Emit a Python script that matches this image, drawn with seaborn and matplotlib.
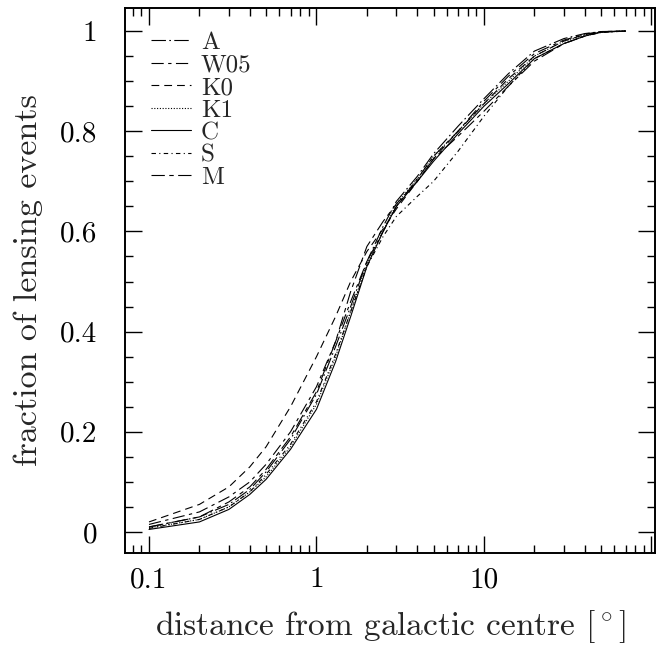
import matplotlib
matplotlib.use("Agg")
import matplotlib.pyplot as plt
import matplotlib.ticker as mticker
import seaborn as sns

# distance from galactic centre (deg)
dist = [0.1, 0.2, 0.3, 0.4, 0.5, 0.7, 1.0, 1.3, 1.6, 2.0, 2.5, 3.0,
        4.0, 5.0, 7.0, 10, 14, 20, 30, 40, 50, 70]

frac_A = [0.01, 0.03, 0.055, 0.085, 0.12, 0.185, 0.275, 0.37, 0.45, 0.54, 0.61, 0.66,
          0.71, 0.755, 0.81, 0.865, 0.915, 0.96, 0.985, 0.995, 0.999, 1.0]
frac_W05 = [0.015, 0.04, 0.07, 0.10, 0.135, 0.20, 0.29, 0.38, 0.46, 0.54, 0.60, 0.65,
            0.705, 0.75, 0.80, 0.86, 0.91, 0.955, 0.982, 0.994, 0.999, 1.0]
frac_K0 = [0.02, 0.055, 0.09, 0.13, 0.17, 0.25, 0.35, 0.43, 0.50, 0.56, 0.605, 0.645,
           0.70, 0.745, 0.80, 0.855, 0.905, 0.95, 0.98, 0.993, 0.998, 1.0]
frac_K1 = [0.008, 0.025, 0.05, 0.08, 0.11, 0.17, 0.255, 0.35, 0.44, 0.535, 0.60, 0.655,
           0.705, 0.75, 0.80, 0.855, 0.90, 0.95, 0.98, 0.992, 0.998, 1.0]
frac_C = [0.005, 0.02, 0.045, 0.075, 0.105, 0.165, 0.245, 0.34, 0.43, 0.53, 0.60, 0.65,
          0.70, 0.74, 0.795, 0.85, 0.895, 0.945, 0.975, 0.99, 0.998, 1.0]
frac_S = [0.007, 0.025, 0.05, 0.08, 0.115, 0.175, 0.26, 0.355, 0.44, 0.53, 0.59, 0.63,
          0.67, 0.70, 0.76, 0.83, 0.89, 0.945, 0.975, 0.99, 0.997, 1.0]
frac_M = [0.01, 0.03, 0.06, 0.09, 0.125, 0.19, 0.28, 0.38, 0.48, 0.57, 0.62, 0.655,
          0.70, 0.745, 0.79, 0.84, 0.89, 0.94, 0.975, 0.99, 0.998, 1.0]

models = ["A", "W05", "K0", "K1", "C", "S", "M"]
series = [frac_A, frac_W05, frac_K0, frac_K1, frac_C, frac_S, frac_M]
styles = {
    "A": (0, (13, 3, 1.5, 3)),
    "W05": (0, (11, 4, 3, 4)),
    "K0": (0, (7, 4.5)),
    "K1": (0, (1, 1.5)),
    "C": "-",
    "S": (0, (4, 3, 1, 3)),
    "M": (0, (12, 4, 4, 4)),
}

sns.set_style("ticks")
plt.rcParams["font.family"] = ["cmr10", "DejaVu Serif"]
plt.rcParams["mathtext.fontset"] = "cm"
plt.rcParams["axes.formatter.use_mathtext"] = True

fig = plt.figure(figsize=(6.66, 6.47), dpi=100)
ax = fig.add_axes([0.1877, 0.1453, 0.7958, 0.8423])

for name, vals in zip(models, series):
    sns.lineplot(x=dist, y=vals, ax=ax, color="black", linewidth=0.8,
                 linestyle=styles[name], label=name)

ax.set_xscale("log")
ax.set_xlim(0.0719, 105)
ax.set_ylim(-0.042, 1.046)

ax.xaxis.set_major_locator(mticker.FixedLocator([0.1, 1, 10, 100]))
ax.xaxis.set_major_formatter(mticker.FixedFormatter(["0.1", "1", "10", ""]))
ax.xaxis.set_minor_locator(mticker.LogLocator(base=10, subs=range(2, 10)))
ax.xaxis.set_minor_formatter(mticker.NullFormatter())
ax.yaxis.set_major_locator(mticker.FixedLocator([0, 0.2, 0.4, 0.6, 0.8, 1.0]))
ax.yaxis.set_major_formatter(mticker.FixedFormatter(["0", "0.2", "0.4", "0.6", "0.8", "1"]))
ax.yaxis.set_minor_locator(mticker.MultipleLocator(0.05))

ax.tick_params(which="both", direction="in", top=True, right=True, width=1.0,
               colors="black", labelsize=21)
ax.tick_params(which="major", length=12)
ax.tick_params(which="minor", length=6)
ax.tick_params(axis="x", pad=10)
ax.tick_params(axis="y", pad=20)
for sp in ax.spines.values():
    sp.set_linewidth(1.4)
    sp.set_color("black")

ax.set_xlabel(r"distance from galactic centre [$^\circ$]", fontsize=24, labelpad=11)
ax.set_ylabel("fraction of lensing events", fontsize=24.5, labelpad=12)

ax.legend(loc="upper left", frameon=False, fontsize=18, handlelength=1.6,
          handletextpad=0.4, labelspacing=0.0, borderaxespad=0.0,
          bbox_to_anchor=(0.03, 0.975))

fig.savefig("out.png", dpi=100)
